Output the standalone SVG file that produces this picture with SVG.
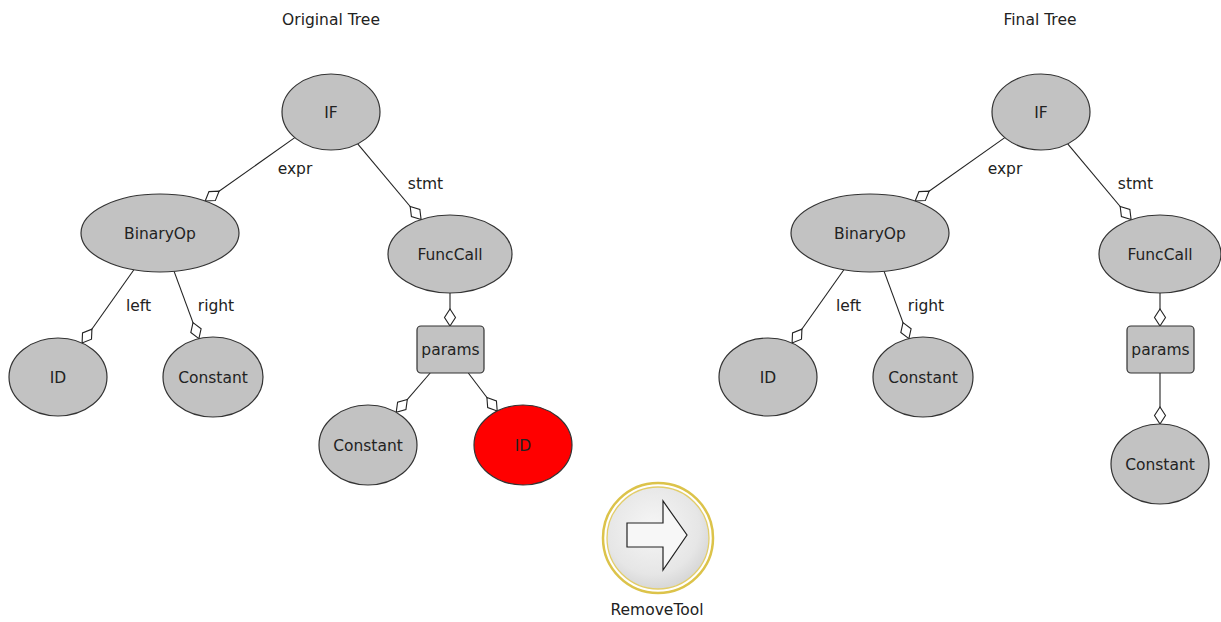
<svg xmlns="http://www.w3.org/2000/svg" width="1221" height="622" viewBox="0 0 1221 622">
<style>
text{font-family:"DejaVu Sans","Liberation Sans",sans-serif;font-size:15.5px;fill:#222;text-anchor:middle}
.n{fill:#c2c2c2;stroke:#333;stroke-width:1.2}
.e{stroke:#222;stroke-width:1.1;fill:none;marker-end:url(#dia)}
</style>
<defs>
<marker id="dia" viewBox="0 0 19 14" refX="18" refY="7" markerWidth="19" markerHeight="14" orient="auto" markerUnits="userSpaceOnUse">
<path d="M1,7 L9.5,1.5 L18,7 L9.5,12.5 Z" fill="#fff" stroke="#222" stroke-width="1.1"/>
</marker>
<radialGradient id="btn" cx="0.45" cy="0.4" r="0.65">
<stop offset="0" stop-color="#f6f6f6"/>
<stop offset="0.7" stop-color="#e6e6e6"/>
<stop offset="1" stop-color="#d2d2d2"/>
</radialGradient>
</defs>
<rect width="1221" height="622" fill="#fff"/>
<text x="331" y="25">Original Tree</text>
<text x="1040" y="25">Final Tree</text>

<g id="connectors">
<line class="e" x1="294.8" y1="137.6" x2="205.2" y2="201"/>
<line class="e" x1="357.7" y1="143.9" x2="421.1" y2="219.5"/>
<line class="e" x1="133.9" y1="269.8" x2="82.1" y2="343"/>
<line class="e" x1="174.1" y1="271.4" x2="198.9" y2="338.6"/>
<line class="e" x1="450" y1="293" x2="450" y2="326"/>
<line class="e" x1="430.2" y1="373" x2="396.2" y2="412.3"/>
<line class="e" x1="468.3" y1="373" x2="497.2" y2="411"/>
<line class="e" x1="1004.8" y1="137.6" x2="915.2" y2="201"/>
<line class="e" x1="1067.7" y1="143.9" x2="1131.1" y2="219.5"/>
<line class="e" x1="843.9" y1="269.8" x2="792.1" y2="343"/>
<line class="e" x1="884.1" y1="271.4" x2="908.9" y2="338.6"/>
<line class="e" x1="1160" y1="293" x2="1160" y2="326"/>
<line class="e" x1="1160" y1="373" x2="1160" y2="424"/>
<text x="295" y="174">expr</text>
<text x="425.5" y="189">stmt</text>
<text x="138.5" y="311">left</text>
<text x="216" y="311">right</text>
<text x="1005" y="174">expr</text>
<text x="1135.5" y="189">stmt</text>
<text x="848.5" y="311">left</text>
<text x="926" y="311">right</text>
</g>

<g id="o-if"><ellipse class="n" cx="331" cy="112" rx="49" ry="38"/><text x="331" y="117.5">IF</text></g>
<g id="o-binop"><ellipse class="n" cx="160" cy="233" rx="79" ry="39"/><text x="160" y="238.5">BinaryOp</text></g>
<g id="o-funccall"><ellipse class="n" cx="450" cy="254" rx="62" ry="39"/><text x="450" y="259.5">FuncCall</text></g>
<g id="o-params"><rect class="n" x="417" y="326" width="67" height="47" rx="4"/><text x="450.5" y="355">params</text></g>
<g id="o-id"><ellipse class="n" cx="58" cy="377" rx="49" ry="39"/><text x="58" y="382.5">ID</text></g>
<g id="o-const"><ellipse class="n" cx="213" cy="377" rx="50" ry="40"/><text x="213" y="382.5">Constant</text></g>
<g id="o-const2"><ellipse class="n" cx="368" cy="445" rx="49" ry="40"/><text x="368" y="450.5">Constant</text></g>
<g id="o-id2"><ellipse class="n" cx="523" cy="445" rx="49" ry="40" style="fill:#ff0000"/><text x="523" y="450.5">ID</text></g>

<g id="f-if"><ellipse class="n" cx="1041" cy="112" rx="49" ry="38"/><text x="1041" y="117.5">IF</text></g>
<g id="f-binop"><ellipse class="n" cx="870" cy="233" rx="79" ry="39"/><text x="870" y="238.5">BinaryOp</text></g>
<g id="f-funccall"><ellipse class="n" cx="1160" cy="254" rx="61" ry="39"/><text x="1160" y="259.5">FuncCall</text></g>
<g id="f-params"><rect class="n" x="1127" y="326" width="67" height="47" rx="4"/><text x="1160.5" y="355">params</text></g>
<g id="f-id"><ellipse class="n" cx="768" cy="377" rx="49" ry="39"/><text x="768" y="382.5">ID</text></g>
<g id="f-const"><ellipse class="n" cx="923" cy="377" rx="50" ry="40"/><text x="923" y="382.5">Constant</text></g>
<g id="f-const2"><ellipse class="n" cx="1160" cy="464" rx="49" ry="40"/><text x="1160" y="469.5">Constant</text></g>

<g id="removetool">
<circle cx="658" cy="538" r="55" fill="#fff" stroke="#dcc34a" stroke-width="2.5"/>
<circle cx="658" cy="538" r="51" fill="url(#btn)" stroke="#e2cd6a" stroke-width="1.3"/>
<polygon points="627,523 663,523 663,501 687,535 663,570 663,547 627,547" fill="#f7f7f7" stroke="#222" stroke-width="1.2"/>
<text x="657" y="615">RemoveTool</text>
</g>
</svg>
